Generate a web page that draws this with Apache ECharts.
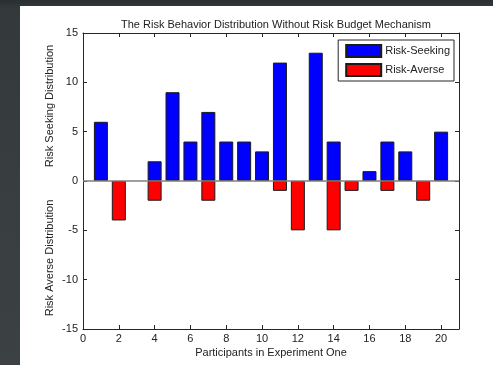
<!DOCTYPE html>
<html>
<head>
<meta charset="utf-8">
<script src="https://cdn.jsdelivr.net/npm/echarts@6/dist/echarts.min.js"></script>
<style>
  html, body { margin: 0; padding: 0; width: 493px; height: 365px; overflow: hidden;
    background: linear-gradient(180deg, #2a2e31 0px, #34393c 8px, #3c4144 100%); }
  #chart { position: absolute; left: 20px; top: 6px; width: 473px; height: 359px; background: #ffffff; }
</style>
</head>
<body>
<div id="chart"></div>
<script>
// Participants 1..20 and their risk tallies
const participants = [1, 2, 3, 4, 5, 6, 7, 8, 9, 10, 11, 12, 13, 14, 15, 16, 17, 18, 19, 20];
const riskSeeking = [6, 0, 0, 2, 9, 4, 7, 4, 4, 3, 12, 0, 13, 4, 0, 1, 4, 3, 0, 5];
const riskAverse = [0, -4, 0, -2, 0, 0, -2, 0, 0, 0, -1, -5, 0, -5, -1, 0, -1, 0, -2, 0];
const yTicks = [-15, -10, -5, 0, 5, 10, 15];
const xTicks = [0, 2, 4, 6, 8, 10, 12, 14, 16, 18, 20];

const pairs = (vals) => participants
  .map((p, i) => [p, vals[i]])
  .filter(d => d[1] !== 0);

const chart = echarts.init(document.getElementById('chart'), null, { renderer: 'canvas' });
const font = 'Liberation Sans, Arial, sans-serif';
const ink = '#262626';

const axisBase = {
  type: 'value',
  axisLine: { show: true, onZero: false, lineStyle: { color: ink, width: 1 } },
  axisTick: { show: true, inside: true, length: 4, lineStyle: { color: ink } },
  splitLine: { show: false }
};

chart.setOption({
  animation: false,
  title: {
    text: 'The Risk Behavior Distribution Without Risk Budget Mechanism',
    left: 251, top: 8, textAlign: 'center',
    textStyle: { fontFamily: font, fontSize: 11, fontWeight: 'normal', color: '#222' }
  },
  grid: { left: 63, top: 27, right: 34, bottom: 36 },
  legend: {
    right: 39, top: 34,
    orient: 'vertical',
    icon: 'rect',
    itemWidth: 35, itemHeight: 12, itemGap: 5,
    padding: [4, 4, 4, 7],
    borderColor: ink, borderWidth: 1, backgroundColor: '#fff', borderRadius: 0,
    textStyle: { fontFamily: font, fontSize: 11, color: '#222', padding: [0, 0, 0, -1] },
    data: ['Risk-Seeking', 'Risk-Averse']
  },
  xAxis: [
    Object.assign({}, axisBase, {
      position: 'bottom', min: 0, max: 21, interval: 2,
      axisLabel: { fontFamily: font, fontSize: 11, color: '#222', margin: 4,
        showMaxLabel: false,
        formatter: v => xTicks.includes(v) ? String(v) : '' }
    }),
    Object.assign({}, axisBase, {
      position: 'top', min: 0, max: 21, interval: 2,
      axisLabel: { show: false }
    })
  ],
  yAxis: [
    Object.assign({}, axisBase, {
      position: 'left', min: -15, max: 15, interval: 5,
      axisLabel: { fontFamily: font, fontSize: 11, color: '#222', margin: 5,
        formatter: v => yTicks.includes(v) ? String(v) : '' }
    }),
    Object.assign({}, axisBase, {
      position: 'right', min: -15, max: 15, interval: 5,
      axisLabel: { show: false }
    })
  ],
  graphic: [
    { type: 'text', x: 30, y: 100, rotation: Math.PI / 2,
      style: { text: 'Risk Seeking Distribution', font: '11px ' + font, fill: '#222',
        textAlign: 'center', textVerticalAlign: 'middle' } },
    { type: 'text', x: 30, y: 252, rotation: Math.PI / 2,
      style: { text: 'Risk Averse Distribution', font: '11px ' + font, fill: '#222',
        textAlign: 'center', textVerticalAlign: 'middle' } },
    { type: 'text', x: 251, y: 347,
      style: { text: 'Participants in Experiment One', font: '11px ' + font, fill: '#222',
        textAlign: 'center', textVerticalAlign: 'middle' } }
  ],
  series: [
    {
      name: 'Risk-Seeking', type: 'bar', xAxisIndex: 0, yAxisIndex: 0,
      barWidth: 14, barGap: '-100%',
      itemStyle: { color: '#0000ff', borderColor: '#1a1a1a', borderWidth: 1, borderRadius: 0 },
      data: pairs(riskSeeking),
      markLine: {
        silent: true, symbol: 'none', label: { show: false },
        lineStyle: { color: '#7f7f7f', type: 'solid', width: 1.5 },
        data: [{ yAxis: 0 }]
      }
    },
    {
      name: 'Risk-Averse', type: 'bar', xAxisIndex: 0, yAxisIndex: 0,
      barWidth: 14,
      itemStyle: { color: '#ff0000', borderColor: '#1a1a1a', borderWidth: 1, borderRadius: 0 },
      data: pairs(riskAverse)
    }
  ]
});
</script>
</body>
</html>
